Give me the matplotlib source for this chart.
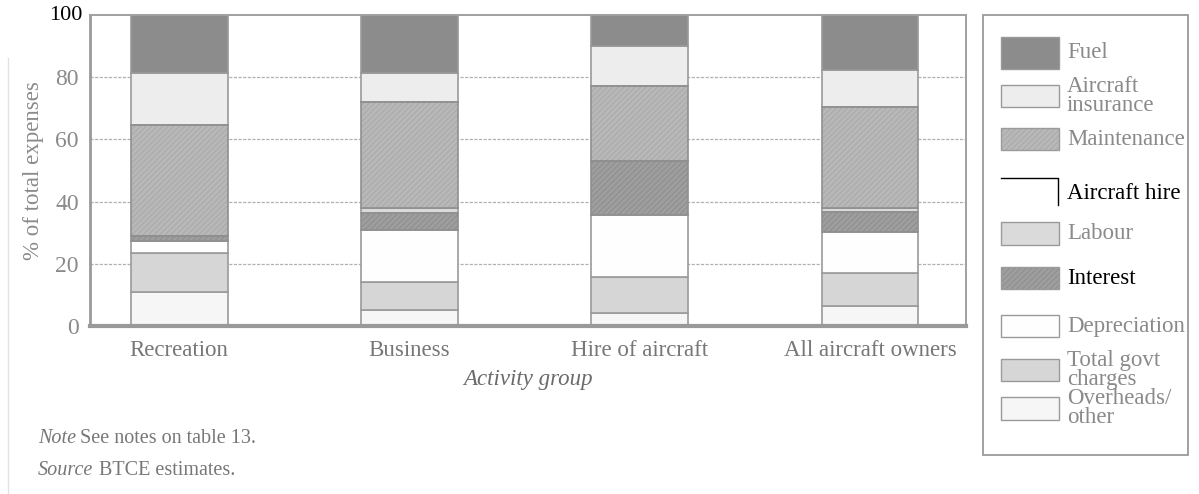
import numpy as np
import matplotlib
matplotlib.use('Agg')
import matplotlib.pyplot as plt
from matplotlib.patches import Rectangle

plt.rcParams['font.family'] = ['Liberation Serif', 'DejaVu Serif']
plt.rcParams['hatch.linewidth'] = 0.6

groups = ['Recreation', 'Business', 'Hire of aircraft', 'All aircraft owners']

# cost shares (% of total expenses), stacked bottom to top
overheads    = [10.9, 5.2, 4.1, 6.5]
govt_charges = [12.5, 8.8, 11.8, 10.5]
depreciation = [3.8, 17.0, 19.9, 13.2]
interest     = [1.6, 5.3, 17.4, 6.5]
labour       = [0.0, 1.7, 0.0, 1.3]
aircraft_hire = [0.0, 0.0, 0.0, 0.0]
maintenance  = [35.8, 34.0, 24.0, 32.4]
insurance    = [16.7, 9.3, 12.7, 12.0]
fuel         = [18.7, 18.7, 10.1, 17.6]

series = [
    ('Overheads/\nother', overheads, '#f6f6f6', None),
    ('Total govt\ncharges', govt_charges, '#d6d6d6', None),
    ('Depreciation', depreciation, '#fefefe', None),
    ('Interest', interest, '#9e9e9e', '//////'),
    ('Labour', labour, '#dadada', None),
    ('Aircraft hire', aircraft_hire, '#ffffff', None),
    ('Maintenance', maintenance, '#b8b8b8', '//////'),
    ('Aircraft\ninsurance', insurance, '#ededed', None),
    ('Fuel', fuel, '#8c8c8c', None),
]
hatch_cols = {'Interest': '#8a8a8a', 'Maintenance': '#a6a6a6'}

fig = plt.figure(figsize=(11.99, 4.94), dpi=100)
ax = fig.add_axes([0.0751, 0.340, 0.7306, 0.6296])

x = np.arange(len(groups))
width = 0.42
bottom = np.zeros(len(groups))
for name, vals, col, hatch in series:
    vals = np.array(vals)
    if hatch:
        ax.bar(x, vals, width, bottom=bottom, color=col, hatch=hatch,
               edgecolor=hatch_cols[name], linewidth=0, zorder=2)
        ax.bar(x, vals, width, bottom=bottom, fill=False,
               edgecolor='#8f8f8f', linewidth=1.2, zorder=3)
    else:
        ax.bar(x, vals, width, bottom=bottom, color=col,
               edgecolor='#9a9a9a', linewidth=1.2, zorder=2)
    bottom += vals

ax.set_xlim(-0.387, 3.417)
ax.set_ylim(0, 100)
ax.set_yticks([0, 20, 40, 60, 80, 100])
ax.set_yticklabels(['0', '20', '40', '60', '80', ''])
ax.text(-0.42, 100, '100', ha='right', va='center', fontsize=16,
        color='black', transform=ax.transData, clip_on=False)
ax.tick_params(axis='y', length=0, pad=8, labelsize=17, labelcolor='#8a8a8a')
ax.set_xticks(x)
ax.set_xticklabels(groups)
ax.tick_params(axis='x', length=0, pad=10, labelsize=16.5, labelcolor='#777777')

for yv in [20, 40, 60, 80]:
    ax.axhline(yv, color='#b0b0b0', linewidth=0.9, linestyle=(0, (2.5, 1.2)), zorder=1)

for side in ['top', 'right']:
    ax.spines[side].set_color('#a0a0a0')
    ax.spines[side].set_linewidth(1.4)
ax.spines['left'].set_color('#9a9a9a')
ax.spines['left'].set_linewidth(2.0)
ax.spines['bottom'].set_color('#999999')
ax.spines['bottom'].set_linewidth(3.0)

ax.set_ylabel('% of total expenses', fontsize=16.5, color='#8a8a8a', labelpad=8)
ax.set_xlabel('Activity group', fontsize=16.5, color='#6a6a6a', style='italic', labelpad=6)

# notes under the chart
fig.text(38 / 1199, 1 - 438 / 494, 'Note', fontsize=14.5, style='italic', color='#777777', va='center')
fig.text(80 / 1199, 1 - 438 / 494, 'See notes on table 13.', fontsize=14.5, color='#777777', va='center')
fig.text(38 / 1199, 1 - 470 / 494, 'Source', fontsize=14.5, style='italic', color='#777777', va='center')
fig.text(99 / 1199, 1 - 470 / 494, 'BTCE estimates.', fontsize=14.5, color='#777777', va='center')

# legend panel drawn in pixel coordinates
lax = fig.add_axes([0, 0, 1, 1], zorder=5)
lax.set_xlim(0, 1199)
lax.set_ylim(494, 0)
lax.axis('off')
lax.add_patch(Rectangle((983, 15), 205, 440, fill=False, edgecolor='#9a9a9a', linewidth=1.3))
lax.plot([8, 8], [58, 494], color='#e2e2e2', linewidth=1.0)

legend_rows = [
    ('Fuel', 53, 32), ('Aircraft\ninsurance', 96, 22), ('Maintenance', 139, 22),
    ('Aircraft hire', 193, 30), ('Labour', 233, 23), ('Interest', 278, 22),
    ('Depreciation', 326, 22), ('Total govt\ncharges', 370, 22), ('Overheads/\nother', 408, 23),
]
style = {name: (col, hatch) for name, _, col, hatch in series}
for name, yc, h in legend_rows:
    col, hatch = style[name]
    if name == 'Aircraft hire':
        lax.plot([1001, 1058, 1058], [178, 178, 205], color='black', linewidth=1.0)
        tcol = 'black'
    else:
        if hatch:
            lax.add_patch(Rectangle((1001, yc - h / 2), 58, h, facecolor=col, hatch=hatch,
                                    edgecolor=hatch_cols[name], linewidth=0))
        lax.add_patch(Rectangle((1001, yc - h / 2), 58, h, facecolor=col if not hatch else 'none',
                                edgecolor='#9a9a9a', linewidth=1.0))
        tcol = 'black' if name == 'Interest' else '#8a8a8a'
    lax.text(1067, yc, name, fontsize=16.5, color=tcol, va='center', ha='left', linespacing=0.84)

fig.savefig('out.png', dpi=100)
